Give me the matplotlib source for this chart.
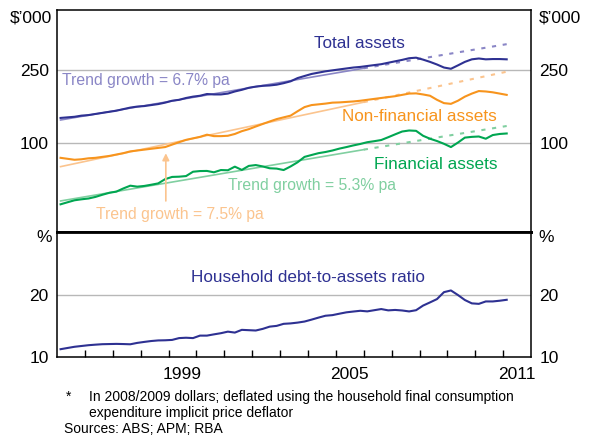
import matplotlib
matplotlib.use("Agg")
import matplotlib.pyplot as plt
import numpy as np

plt.rcParams['font.family'] = ['Liberation Sans', 'DejaVu Sans']

# quarterly observations, Q1 1995 .. Q1 2011 (decimal years at mid-quarter)
quarters = 1995.125 + 0.25 * np.arange(65)

total_assets = [137, 138, 139, 141, 142, 144, 146, 148, 150, 153, 156, 158,
                159, 161, 163, 166, 170, 172, 176, 179, 181, 185, 184, 184,
                186, 191, 195, 200, 203, 205, 206, 208, 212, 217, 226, 232,
                238, 242, 246, 249, 252, 255, 258, 260, 263, 266, 269, 274,
                279, 284, 290, 292, 285, 277, 268, 258, 254, 265, 277, 286,
                289, 286, 287, 287, 286]

non_financial = [83, 82, 81, 81.5, 82.5, 83, 84, 85, 86.5, 88, 90, 91,
                 92, 93, 94, 95, 98, 101, 104, 106, 108, 111, 109, 109,
                 109.5, 112, 116, 119, 123, 127, 131, 135, 138, 141, 149, 157,
                 161, 162.5, 164, 166, 166.5, 167.5, 168.5, 170, 172, 174, 176, 178,
                 180, 183, 186, 186.5, 184, 181, 172, 165, 163.5, 170, 179, 186,
                 192, 191, 189, 186, 183]

financial = [46.3, 47.5, 48.7, 49.3, 49.8, 50.8, 52.2, 53.5, 54.3, 56.5, 58.5, 57.8,
             58.3, 59.2, 60.2, 63.5, 65.3, 65.5, 66.0, 69.7, 70.3, 70.4, 69.2, 71.2,
             71.0, 74.3, 71.3, 75.0, 75.8, 74.5, 72.8, 72.5, 71.2, 74.5, 78.5, 84.0,
             86.0, 88.0, 89.3, 91.0, 93.2, 95.0, 97.0, 98.8, 101.0, 102.3, 103.8, 107.5,
             111.5, 115.5, 117.0, 116.5, 109.5, 105.5, 102.5, 99.0, 95.0, 100.5, 107.0, 108.0,
             108.5, 105.5, 110.5, 112.0, 112.7]

debt_ratio = [10.95, 11.1, 11.25, 11.35, 11.45, 11.52, 11.58, 11.6, 11.62, 11.6, 11.57, 11.75,
              11.88, 12.0, 12.08, 12.1, 12.15, 12.4, 12.45, 12.4, 12.75, 12.75, 12.93, 13.1,
              13.33, 13.19, 13.6, 13.55, 13.5, 13.75, 14.1, 14.22, 14.55, 14.62, 14.75, 14.93,
              15.25, 15.6, 15.93, 16.04, 16.3, 16.55, 16.7, 16.84, 16.73, 16.95, 17.17, 16.92,
              17.0, 16.9, 16.72, 16.95, 17.85, 18.5, 19.2, 20.75, 21.15, 20.1, 19.0, 18.3,
              18.2, 18.7, 18.7, 18.85, 19.05]

# trend lines: value at start, at end of fit period, at end of projection
trend_years = [1995.125, 2006.0, 2011.125]
trend_total = [133.5, 255.7, 346]
trend_nonfin = [74.3, 167.0, 244.8]
trend_fin = [48.3, 92.0, 123.8]

navy = '#2e3192'
orange = '#f7941d'
green = '#00a651'
navy_lt = '#8a86c6'
orange_lt = '#fbc48e'
green_lt = '#80cfa0'
grid_c = '#b8b8b8'

fig = plt.figure(figsize=(5.94, 4.37), dpi=100)
ax1 = fig.add_axes([0.0961, 0.468, 0.798, 0.510])
ax2 = fig.add_axes([0.0961, 0.1824, 0.798, 0.2856])

# --- top panel ---
for yv in [100, 250]:
    ax1.axhline(yv, color=grid_c, lw=1.0, zorder=1)

for tr, c in [(trend_total, navy_lt), (trend_nonfin, orange_lt), (trend_fin, green_lt)]:
    ax1.plot(trend_years[:2], tr[:2], color=c, lw=1.2, zorder=2)
    ax1.plot(trend_years[1:], tr[1:], color=c, lw=1.5, ls=(0, (2, 3.2)), zorder=2)

ax1.plot(quarters, total_assets, color=navy, lw=1.5, zorder=3)
ax1.plot(quarters, non_financial, color=orange, lw=1.5, zorder=3)
ax1.plot(quarters, financial, color=green, lw=1.5, zorder=3)

ax1.set_yscale('log')
ax1.set_ylim(32.5, 534)
ax1.set_xlim(1995, 2012)

ax1.text(2005.85, 349, 'Total assets', color=navy, fontsize=12.3, ha='center', va='center')
ax1.text(1995.16, 218, 'Trend growth = 6.7% pa', color=navy_lt, fontsize=11.3, ha='left', va='center')
ax1.text(2007.99, 139, 'Non-financial assets', color=orange, fontsize=12.3, ha='center', va='center')
ax1.text(2008.59, 75.9, 'Financial assets', color=green, fontsize=12.3, ha='center', va='center')
ax1.text(2004.13, 58.5, 'Trend growth = 5.3% pa', color=green_lt, fontsize=11.3, ha='center', va='center')
ax1.text(1999.4, 40.9, 'Trend growth = 7.5% pa', color=orange_lt, fontsize=11.3, ha='center', va='center')
ax1.annotate('', xy=(1998.9, 87.9), xytext=(1998.9, 48.3),
             arrowprops=dict(arrowstyle='-|>', color=orange_lt, lw=1.2,
                             mutation_scale=10, shrinkA=0, shrinkB=0))

# --- bottom panel ---
ax2.axhline(20, color=grid_c, lw=1.0, zorder=1)
ax2.plot(quarters, debt_ratio, color=navy, lw=1.5, zorder=3)
ax2.set_yscale('log')
ax2.set_ylim(10, 40.5)
ax2.set_xlim(1995, 2012)
ax2.text(2003.98, 24.33, 'Household debt-to-assets ratio', color=navy,
         fontsize=12.3, ha='center', va='center')

# axes styling
for ax, ticks, labels in [(ax1, [100, 250], ['100', '250']),
                          (ax2, [10, 20], ['10', '20'])]:
    ax.yaxis.set_minor_locator(matplotlib.ticker.NullLocator())
    ax.set_yticks(ticks)
    ax.set_yticklabels(labels)
    ax.tick_params(axis='y', which='both', length=0, labelsize=12.5, pad=6,
                   labelleft=True, labelright=True)
    for s in ax.spines.values():
        s.set_linewidth(1.1)
        s.set_color('black')

ax1.set_xticks([])
ax1.spines['bottom'].set_linewidth(2.0)
ax2.spines['top'].set_linewidth(2.0)

year_bounds = np.arange(1996, 2012)
ax2.set_xticks(year_bounds)
ax2.set_xticklabels([])
ax2.tick_params(axis='x', which='major', direction='in', length=5, width=1.0)
ax2.set_xticks([1999.5, 2005.5, 2011.5], minor=True)
ax2.set_xticklabels(['1999', '2005', '2011'], minor=True)
ax2.tick_params(axis='x', which='minor', length=0, labelsize=12.5, pad=7)

# unit labels
fig.text(0.087, 1 - 18 / 437, '$\u2019000', fontsize=12.5, ha='right', va='center')
fig.text(0.907, 1 - 18 / 437, '$\u2019000', fontsize=12.5, ha='left', va='center')
fig.text(0.087, 1 - 238 / 437, '%', fontsize=12.5, ha='right', va='center')
fig.text(0.907, 1 - 238 / 437, '%', fontsize=12.5, ha='left', va='center')

# footnotes
fig.text(66 / 594, 1 - 397 / 437, '*', fontsize=10, ha='left', va='center')
fig.text(89 / 594, 1 - 397 / 437,
         'In 2008/2009 dollars; deflated using the household final consumption',
         fontsize=10, ha='left', va='center')
fig.text(89 / 594, 1 - 413 / 437, 'expenditure implicit price deflator',
         fontsize=10, ha='left', va='center')
fig.text(64 / 594, 1 - 429 / 437, 'Sources: ABS; APM; RBA',
         fontsize=10, ha='left', va='center')

fig.savefig('out.png', dpi=100)
